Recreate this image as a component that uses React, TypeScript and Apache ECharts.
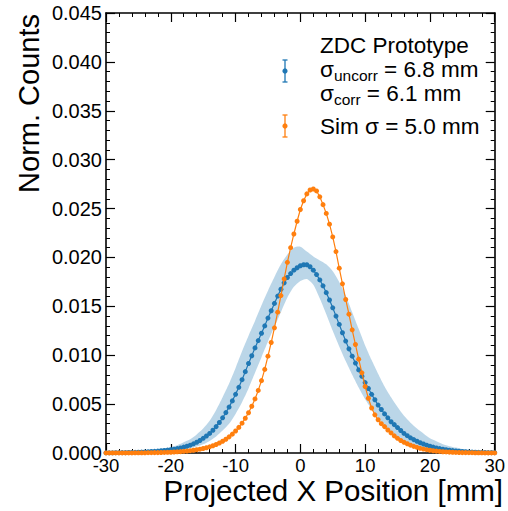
import React, { useEffect, useRef } from 'react';
import * as echarts from 'echarts';

// Bin centres: -30 .. 30 mm in 0.5 mm steps (121 bins); band sampled every 1 mm (61 points)
const X_MIN = -30;
const X_MAX = 30;
const BIN_STEP = 0.5;
const BAND_STEP = 1;

// ZDC prototype, uncorrected (blue points)
const ZDC_UNCORR = [
  0.00002, 0.00002, 0.00002, 0.00003, 0.00003, 0.00004, 0.00004, 0.00005, 0.00006, 0.00007,
  0.00008, 0.00009, 0.00011, 0.00013, 0.00015, 0.00017, 0.0002, 0.00023, 0.00026, 0.0003,
  0.00034, 0.00039, 0.00045, 0.00052, 0.0006, 0.00069, 0.0008, 0.00094, 0.0011, 0.00128,
  0.0015, 0.00174, 0.002, 0.00233, 0.0027, 0.00312, 0.0036, 0.00413, 0.0047, 0.00533,
  0.006, 0.00672, 0.0075, 0.00832, 0.00915, 0.00995, 0.01075, 0.0115, 0.01225, 0.013,
  0.0138, 0.01455, 0.0153, 0.01605, 0.01675, 0.0174, 0.01795, 0.01835, 0.0187, 0.01895,
  0.01915, 0.01925, 0.01925, 0.01905, 0.0187, 0.01825, 0.0177, 0.0171, 0.0164, 0.01565,
  0.01485, 0.014, 0.01315, 0.0123, 0.01145, 0.01065, 0.0099, 0.0092, 0.0085, 0.00785,
  0.0072, 0.0066, 0.006, 0.00545, 0.0049, 0.00445, 0.004, 0.0036, 0.0032, 0.0029,
  0.0026, 0.0023, 0.002, 0.00177, 0.00155, 0.00137, 0.0012, 0.00105, 0.00092, 0.0008,
  0.0007, 0.0006, 0.00052, 0.00045, 0.00039, 0.00034, 0.00029, 0.00025, 0.00021, 0.00018,
  0.00015, 0.00013, 0.00011, 0.00009, 0.00008, 0.00007, 0.00006, 0.00005, 0.00004, 0.00004,
  0.00003,
];

// Simulation (orange points)
const SIM = [
  0.00001, 0.00001, 0.00001, 0.00001, 0.00001, 0.00001, 0.00001, 0.00001, 0.00001, 0.00002,
  0.00002, 0.00002, 0.00002, 0.00003, 0.00003, 0.00004, 0.00004, 0.00005, 0.00006, 0.00007,
  0.00008, 0.0001, 0.00012, 0.00014, 0.00017, 0.0002, 0.00024, 0.00028, 0.00033, 0.00039,
  0.00046, 0.00054, 0.00063, 0.00074, 0.00087, 0.00102, 0.0012, 0.00141, 0.00165, 0.00193,
  0.00225, 0.00262, 0.00305, 0.00355, 0.00412, 0.00478, 0.00553, 0.0064, 0.0074, 0.00855,
  0.0099, 0.0113, 0.0128, 0.0144, 0.0161, 0.0178, 0.0195, 0.021, 0.0224, 0.0237,
  0.0249, 0.0258, 0.0265, 0.0269, 0.027, 0.0268, 0.0262, 0.0254, 0.0245, 0.0234,
  0.0221, 0.0206, 0.0189, 0.0173, 0.0157, 0.0142, 0.0126, 0.0111, 0.0096, 0.0082,
  0.0068, 0.0056, 0.0046, 0.0039, 0.0034, 0.003, 0.0027, 0.00235, 0.00205, 0.00175,
  0.0015, 0.00128, 0.0011, 0.00095, 0.0008, 0.00068, 0.00058, 0.00048, 0.0004, 0.00034,
  0.00028, 0.00023, 0.00019, 0.00016, 0.00013, 0.00011, 0.00009, 0.00008, 0.00006, 0.00005,
  0.00004, 0.00004, 0.00003, 0.00003, 0.00002, 0.00002, 0.00002, 0.00001, 0.00001, 0.00001,
  0.00001,
];

// Uncertainty band of the ZDC measurement (upper / lower edge), every 1 mm
const BAND_HI = [
  0.00004, 0.00005, 0.00007, 0.00009, 0.00012, 0.00016, 0.0002, 0.00026, 0.00034, 0.00045,
  0.0006, 0.0008, 0.0011, 0.0014, 0.0019, 0.0025, 0.0033, 0.0044, 0.0057, 0.0071,
  0.0087, 0.0104, 0.012, 0.0135, 0.0151, 0.0166, 0.018, 0.0193, 0.0203, 0.021,
  0.0211, 0.0206, 0.0201, 0.0197, 0.0193, 0.0186, 0.0175, 0.0161, 0.0144, 0.0127,
  0.011, 0.0095, 0.0081, 0.0068, 0.0057, 0.0047, 0.0038, 0.0031, 0.0025, 0.002,
  0.0015, 0.0012, 0.0009, 0.0007, 0.00055, 0.0004, 0.0003, 0.00022, 0.00016, 0.00012,
  0.00008,
];
const BAND_LO = [
  0.00001, 0.00001, 0.00001, 0.00002, 0.00002, 0.00003, 0.00004, 0.00006, 0.00009, 0.00013,
  0.0002, 0.0003, 0.00038, 0.0005, 0.00067, 0.0009, 0.00124, 0.0017, 0.0023, 0.003,
  0.004, 0.0052, 0.0066, 0.0082, 0.0098, 0.0114, 0.0129, 0.0144, 0.0159, 0.017,
  0.0176, 0.0178, 0.0172, 0.0158, 0.0142, 0.0125, 0.0109, 0.0094, 0.008, 0.0067,
  0.0055, 0.0045, 0.0036, 0.0028, 0.0021, 0.0016, 0.0012, 0.0009, 0.0006, 0.0004,
  0.0003, 0.00022, 0.00016, 0.00012, 0.00009, 0.00007, 0.00005, 0.00004, 0.00003, 0.00002,
  0.00002,
];

const X_TICK_INTERVAL = 10;
const Y_MIN = 0;
const Y_MAX = 0.045;
const Y_TICK_INTERVAL = 0.005;

const BLUE = '#1f77b4';
const ORANGE = '#ff7f0e';
const FONT = '"Liberation Sans", Arial, Helvetica, sans-serif';
const LEG_SIZE = 22.5;
const SUB_SIZE = 15.5;

export default function App() {
  const ref = useRef<HTMLDivElement>(null);

  useEffect(() => {
    document.body.style.margin = '0';
    const chart = echarts.init(ref.current!, null, { renderer: 'svg' });

    const binX = ZDC_UNCORR.map((_, i) => X_MIN + i * BIN_STEP);
    const bandX = BAND_HI.map((_, i) => X_MIN + i * BAND_STEP);

    const ctx = document.createElement('canvas').getContext('2d')!;
    const textW = (t: string, size: number) => {
      ctx.font = `${size}px "Liberation Sans", Arial, sans-serif`;
      return ctx.measureText(t).width;
    };

    const legendText = (text: string, x: number, y: number, size: number) => ({
      type: 'text', x, y,
      style: { text, fontSize: size, fontFamily: FONT, fill: '#000', align: 'left', verticalAlign: 'middle' },
    });
    const sigmaLine = (sub: string, rest: string, y: number) => {
      const x0 = 320;
      const w1 = textW('σ', LEG_SIZE);
      const w2 = textW(sub, SUB_SIZE);
      return [
        legendText('σ', x0, y, LEG_SIZE),
        legendText(sub, x0 + w1, y + 6, SUB_SIZE),
        legendText(rest, x0 + w1 + w2, y, LEG_SIZE),
      ];
    };

    const axisCommon = {
      axisLine: { show: true, onZero: false, lineStyle: { color: '#000', width: 1.6 } },
      axisTick: { show: true, inside: true, length: 9, lineStyle: { color: '#000', width: 1.2 } },
      minorTick: { show: true, splitNumber: 5, length: 4, lineStyle: { color: '#000', width: 1 } },
      splitLine: { show: false },
      minorSplitLine: { show: false },
    };

    const option: any = {
      animation: false,
      backgroundColor: '#fff',
      grid: { left: 106, right: 8, top: 13, bottom: 58, containLabel: false },
      xAxis: [
        {
          type: 'value', min: X_MIN, max: X_MAX, interval: X_TICK_INTERVAL, position: 'bottom',
          ...axisCommon,
          axisLabel: { color: '#000', fontSize: 18.5, fontFamily: FONT, margin: 3, showMaxLabel: true, showMinLabel: true },
        },
        {
          type: 'value', min: X_MIN, max: X_MAX, interval: X_TICK_INTERVAL, position: 'top',
          ...axisCommon,
          axisLabel: { show: false },
        },
      ],
      yAxis: [
        {
          type: 'value', min: Y_MIN, max: Y_MAX, interval: Y_TICK_INTERVAL, position: 'left',
          ...axisCommon,
          axisLabel: {
            color: '#000', fontSize: 20, fontFamily: FONT, margin: 4,
            formatter: (v: number) => v.toFixed(3),
          },
        },
        {
          type: 'value', min: Y_MIN, max: Y_MAX, interval: Y_TICK_INTERVAL, position: 'right',
          ...axisCommon,
          axisLabel: { show: false },
        },
      ],
      series: [
        {
          type: 'custom', name: 'band', silent: true, z: 1,
          data: bandX.map((x, i) => [x, BAND_LO[i], BAND_HI[i]]),
          encode: { x: 0, y: [1, 2] },
          renderItem: (params: any, api: any) => {
            if (params.dataIndex !== 0) return null;
            const pts: number[][] = [];
            for (let i = 0; i < bandX.length; i++) pts.push(api.coord([bandX[i], BAND_HI[i]]));
            for (let i = bandX.length - 1; i >= 0; i--) pts.push(api.coord([bandX[i], BAND_LO[i]]));
            return {
              type: 'polygon',
              shape: { points: pts, smooth: 0.25 },
              style: { fill: 'rgba(31,119,180,0.3)', stroke: 'none' },
            };
          },
        },
        {
          type: 'line', name: 'ZDC', z: 3,
          data: binX.map((x, i) => [x, ZDC_UNCORR[i]]),
          symbol: 'circle', symbolSize: 5, showAllSymbol: true,
          itemStyle: { color: BLUE },
          lineStyle: { color: BLUE, width: 1.2 },
        },
        {
          type: 'line', name: 'Sim', z: 4,
          data: binX.map((x, i) => [x, SIM[i]]),
          symbol: 'circle', symbolSize: 5, showAllSymbol: true,
          itemStyle: { color: ORANGE },
          lineStyle: { color: ORANGE, width: 1.2 },
        },
      ],
      graphic: [
        // axis titles
        {
          type: 'text', x: 29, y: 14, rotation: Math.PI / 2,
          style: { text: 'Norm. Counts', fontSize: 29, fontFamily: FONT, fill: '#000', align: 'right', verticalAlign: 'middle' },
        },
        {
          type: 'text', x: 503, y: 490.5,
          style: { text: 'Projected X Position [mm]', fontSize: 29.5, fontFamily: FONT, fill: '#000', align: 'right', verticalAlign: 'middle' },
        },
        // legend
        legendText('ZDC Prototype', 320, 45, LEG_SIZE),
        ...sigmaLine('uncorr', ' = 6.8 mm', 69.5),
        ...sigmaLine('corr', ' = 6.1 mm', 93.5),
        legendText('Sim σ = 5.0 mm', 320, 126, LEG_SIZE),
        // legend markers
        { type: 'line', shape: { x1: 285, y1: 60, x2: 285, y2: 82 }, style: { stroke: BLUE, lineWidth: 1.3 } },
        { type: 'line', shape: { x1: 282.5, y1: 60, x2: 287.5, y2: 60 }, style: { stroke: BLUE, lineWidth: 1.3 } },
        { type: 'line', shape: { x1: 282.5, y1: 82, x2: 287.5, y2: 82 }, style: { stroke: BLUE, lineWidth: 1.3 } },
        { type: 'circle', shape: { cx: 285, cy: 71, r: 2.6 }, style: { fill: BLUE } },
        { type: 'line', shape: { x1: 285, y1: 115, x2: 285, y2: 137 }, style: { stroke: ORANGE, lineWidth: 1.3 } },
        { type: 'line', shape: { x1: 282.5, y1: 115, x2: 287.5, y2: 115 }, style: { stroke: ORANGE, lineWidth: 1.3 } },
        { type: 'line', shape: { x1: 282.5, y1: 137, x2: 287.5, y2: 137 }, style: { stroke: ORANGE, lineWidth: 1.3 } },
        { type: 'circle', shape: { cx: 285, cy: 126, r: 2.6 }, style: { fill: ORANGE } },
      ],
    };

    chart.setOption(option);
    return () => chart.dispose();
  }, []);

  return <div ref={ref} style={{ width: 508, height: 511 }} />;
}
